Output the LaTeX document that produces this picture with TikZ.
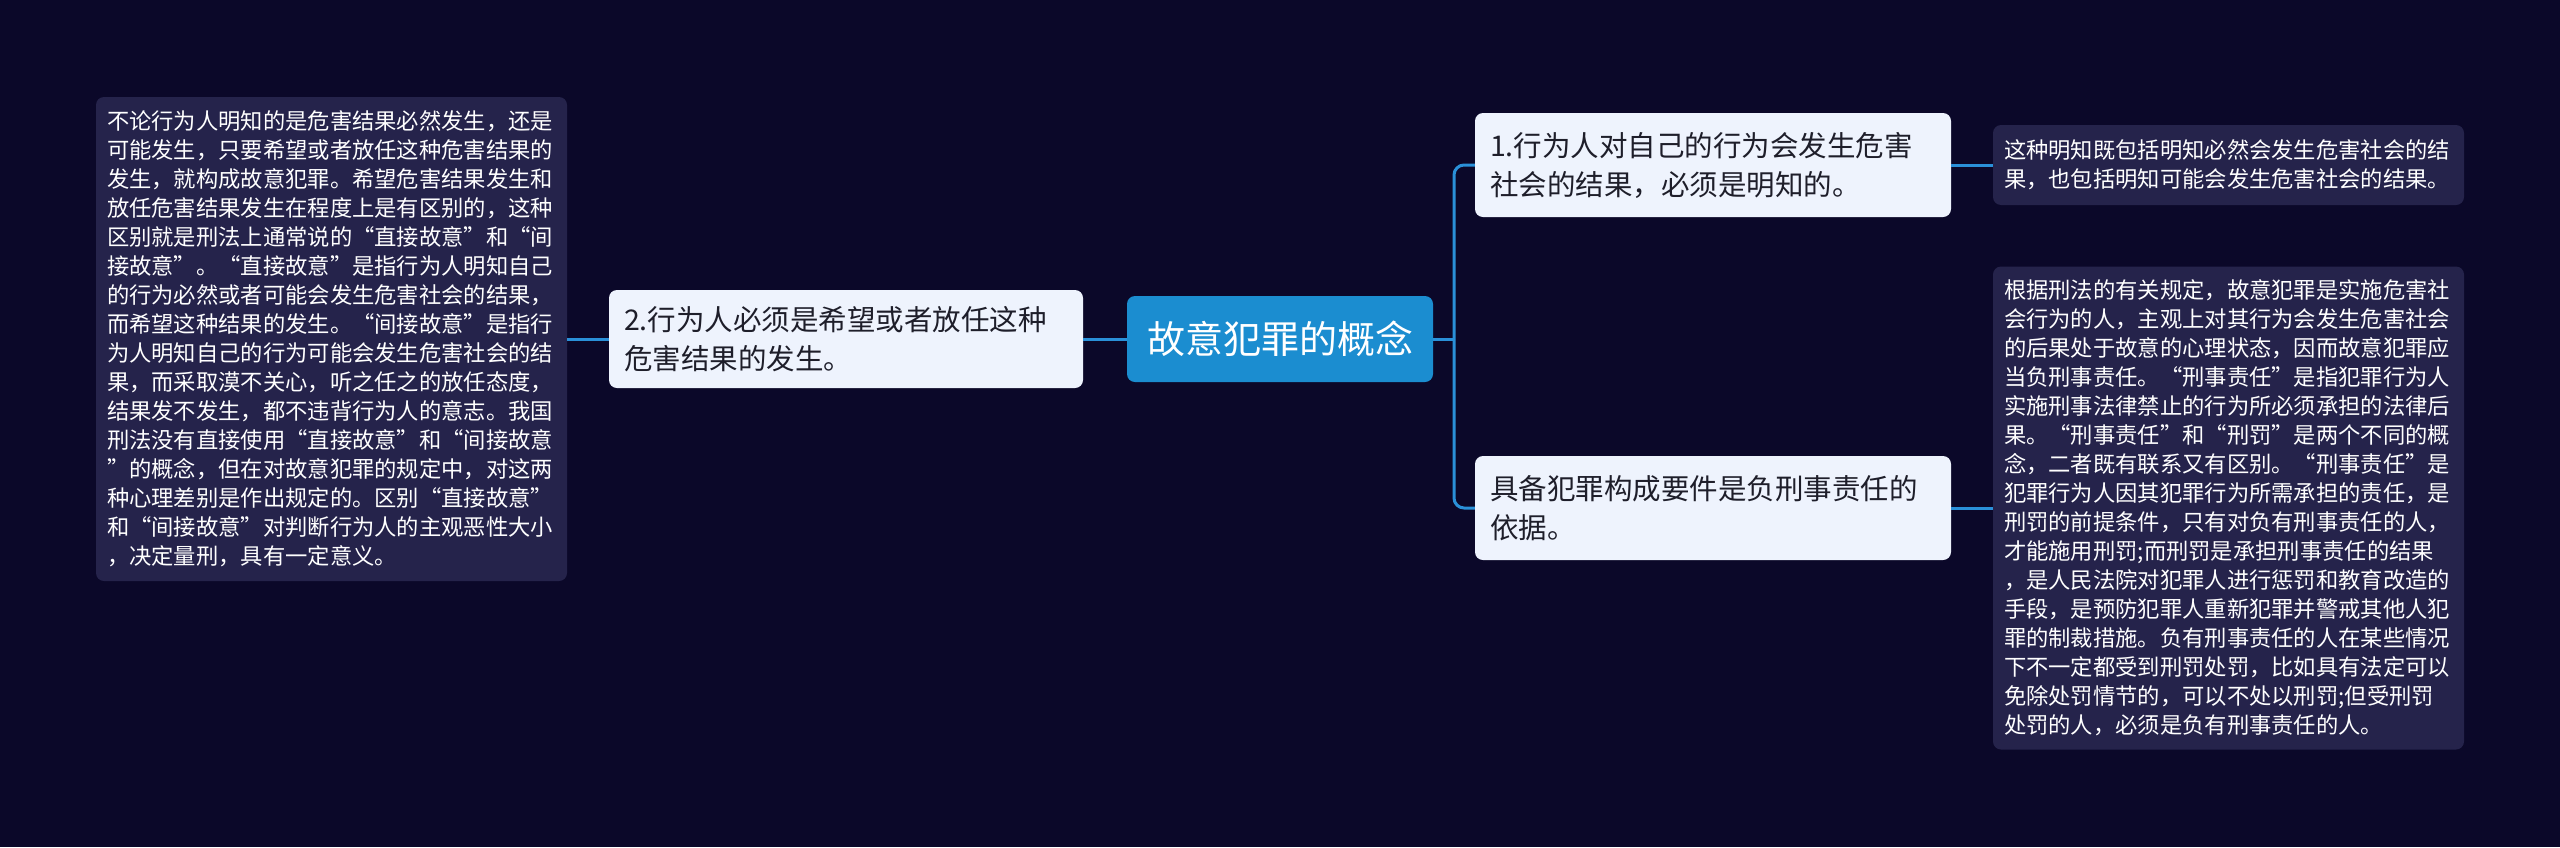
\documentclass[tikz,border=0pt]{standalone}
\usepackage{fontspec}
\setmainfont{Noto Sans CJK SC}
\newfontfamily\fwq{Noto Sans CJK SC}[RawFeature=+fwid]
\newcommand{\LQ}{{\fwq “}}
\newcommand{\RQ}{{\fwq ”}}
\definecolor{bgc}{HTML}{0B0829}
\definecolor{leafc}{HTML}{25234B}
\definecolor{lightc}{HTML}{EEF3FD}
\definecolor{rootc}{HTML}{1B8DD0}
\definecolor{connc}{HTML}{2A90D8}
\definecolor{darktext}{HTML}{1E1E2A}
\tikzset{
  leafbox/.style={draw=none, fill=leafc, rounded corners=8pt, text=white,
    font=\fontsize{22.3}{29}\selectfont, align=left, inner xsep=11pt, inner ysep=0pt,
    text width=449pt, minimum width=471pt, anchor=center},
  subbox/.style={draw=none, fill=lightc, rounded corners=8pt, text=darktext,
    font=\fontsize{28.5}{39}\selectfont, align=left, inner xsep=15pt, inner ysep=0pt,
    text width=446pt, minimum width=476pt, minimum height=104pt, anchor=center},
  rootbox/.style={draw=none, fill=rootc, rounded corners=8pt, text=white,
    font=\fontsize{38}{44}\selectfont, minimum width=306pt, minimum height=86pt,
    inner sep=0pt, anchor=center},
  conn/.style={draw=connc, line width=3pt},
}
\begin{document}
\begin{tikzpicture}[x=1pt,y=-1pt]
\fill[bgc] (0,0) rectangle (2560,847);
\useasboundingbox (0,0) rectangle (2560,847);

\node[rootbox] (root) at (1280,339) {故意犯罪的概念};

\node[subbox, minimum width=474pt, text width=444pt, minimum height=98pt] (n2) at (846,339)
  {2.行为人必须是希望或者放任这种\\危害结果的发生。};

\node[subbox] (n1) at (1713,165)
  {1.行为人对自己的行为会发生危害\\社会的结果，必须是明知的。};

\node[subbox] (n3) at (1713,508)
  {具备犯罪构成要件是负刑事责任的\\依据。};

\node[leafbox, minimum height=484pt] (leafL) at (331.5,339) {%
不论行为人明知的是危害结果必然发生，还是\\
可能发生，只要希望或者放任这种危害结果的\\
发生，就构成故意犯罪。希望危害结果发生和\\
放任危害结果发生在程度上是有区别的，这种\\
区别就是刑法上通常说的\LQ 直接故意\RQ 和\LQ 间\\
接故意\RQ 。\LQ 直接故意\RQ 是指行为人明知自己\\
的行为必然或者可能会发生危害社会的结果，\\
而希望这种结果的发生。\LQ 间接故意\RQ 是指行\\
为人明知自己的行为可能会发生危害社会的结\\
果，而采取漠不关心，听之任之的放任态度，\\
结果发不发生，都不违背行为人的意志。我国\\
刑法没有直接使用\LQ 直接故意\RQ 和\LQ 间接故意\\
\RQ 的概念，但在对故意犯罪的规定中，对这两\\
种心理差别是作出规定的。区别\LQ 直接故意\RQ\\
和\LQ 间接故意\RQ 对判断行为人的主观恶性大小\\
，决定量刑，具有一定意义。};

\node[leafbox, minimum height=80pt] (leafR1) at (2228.5,165) {%
这种明知既包括明知必然会发生危害社会的结\\
果，也包括明知可能会发生危害社会的结果。};

\node[leafbox, minimum height=483pt] (leafR2) at (2228.5,508) {%
根据刑法的有关规定，故意犯罪是实施危害社\\
会行为的人，主观上对其行为会发生危害社会\\
的后果处于故意的心理状态，因而故意犯罪应\\
当负刑事责任。\LQ 刑事责任\RQ 是指犯罪行为人\\
实施刑事法律禁止的行为所必须承担的法律后\\
果。\LQ 刑事责任\RQ 和\LQ 刑罚\RQ 是两个不同的概\\
念，二者既有联系又有区别。\LQ 刑事责任\RQ 是\\
犯罪行为人因其犯罪行为所需承担的责任，是\\
刑罚的前提条件，只有对负有刑事责任的人，\\
才能施用刑罚;而刑罚是承担刑事责任的结果\\
，是人民法院对犯罪人进行惩罚和教育改造的\\
手段，是预防犯罪人重新犯罪并警戒其他人犯\\
罪的制裁措施。负有刑事责任的人在某些情况\\
下不一定都受到刑罚处罚，比如具有法定可以\\
免除处罚情节的，可以不处以刑罚;但受刑罚\\
处罚的人，必须是负有刑事责任的人。};

\coordinate (tr) at (1454,339);
\draw[conn] (root.east) -- (tr);
\draw[conn, rounded corners=10pt] (tr) |- (n1.west);
\draw[conn, rounded corners=10pt] (tr) |- (n3.west);
\draw[conn] (n1.east) -- (leafR1.west);
\draw[conn] (n3.east) -- (leafR2.west);
\draw[conn] (root.west) -- (n2.east);
\draw[conn] (n2.west) -- (leafL.east);
\end{tikzpicture}
\end{document}
